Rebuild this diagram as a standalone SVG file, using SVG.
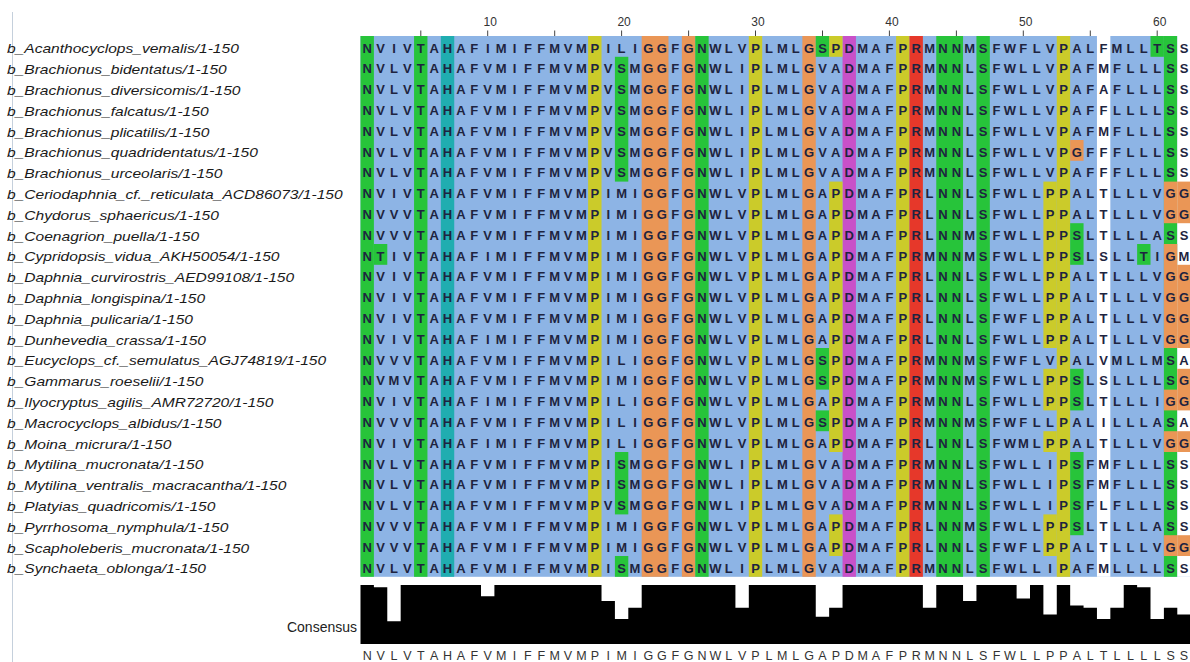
<svg xmlns="http://www.w3.org/2000/svg" width="1190" height="662" viewBox="0 0 1190 662">
<style>
.b{fill:#8db4e5}.g{fill:#27c43a}.c{fill:#20adb0}.y{fill:#cbcb2a}.o{fill:#ea9656}.m{fill:#c851c8}.r{fill:#e6382a}.w{fill:#fff}
.seq{font-family:"Liberation Sans",Arial,sans-serif;font-size:13px;font-weight:bold;fill:#1e2440;text-anchor:middle}
.lab{font-family:"Liberation Sans",Arial,sans-serif;font-size:12.5px;font-style:italic;fill:#1a1a1a}
.rul{font-family:"Liberation Sans",Arial,sans-serif;font-size:12px;fill:#333;text-anchor:middle}
.cons{font-family:"Liberation Sans",Arial,sans-serif;font-size:12.5px;fill:#333;text-anchor:middle}
.clab{font-family:"Liberation Sans",Arial,sans-serif;font-size:14px;fill:#222;text-anchor:end}
</style>
<rect width="1190" height="662" fill="#fff"/>
<line x1="12.5" y1="12" x2="12.5" y2="662" stroke="#c5d0dc" stroke-width="1"/>

<g id="ruler">
<path d="M420.8 30.5V36M487.7 30.5V36M554.7 30.5V36M621.6 30.5V36M688.6 30.5V36M755.5 30.5V36M822.5 30.5V36M889.4 30.5V36M956.4 30.5V36M1023.3 30.5V36M1090.3 30.5V36M1157.2 30.5V36" stroke="#444" stroke-width="1" fill="none"/>
<text class="rul" x="490.2" y="26">10</text>
<text class="rul" x="624.1" y="26">20</text>
<text class="rul" x="758" y="26">30</text>
<text class="rul" x="891.9" y="26">40</text>
<text class="rul" x="1025.8" y="26">50</text>
<text class="rul" x="1159.7" y="26">60</text>
</g>

<g id="cells" transform="translate(360.5 36) scale(13.39 20.8)">
<rect class="b" x="0" y="0" width="62" height="26"/>
<rect class="g" x="0" y="0" width="1" height="26"/>
<rect class="g" x="4" y="0" width="1" height="26"/>
<rect class="c" x="6" y="0" width="1" height="26"/>
<rect class="y" x="17" y="0" width="1" height="26"/>
<rect class="o" x="21" y="0" width="2" height="26"/>
<rect class="o" x="24" y="0" width="1" height="26"/>
<rect class="g" x="25" y="0" width="1" height="26"/>
<rect class="y" x="29" y="0" width="1" height="26"/>
<rect class="o" x="33" y="0" width="1" height="26"/>
<rect class="m" x="36" y="0" width="1" height="26"/>
<rect class="y" x="40" y="0" width="1" height="26"/>
<rect class="r" x="41" y="0" width="1" height="26"/>
<rect class="g" x="43" y="0" width="2" height="26"/>
<rect class="g" x="46" y="0" width="1" height="26"/>
<rect class="y" x="52" y="0" width="1" height="26"/>
<rect class="w" x="55" y="0" width="1" height="26"/>
<rect class="g" x="60" y="0" width="1" height="26"/>
<rect class="w" x="61" y="0" width="1.2" height="26"/>
<rect class="g" x="1" y="10" width="1" height="1"/>
<rect class="g" x="19" y="1" width="1" height="6"/>
<rect class="g" x="19" y="20" width="1" height="3"/>
<rect class="g" x="19" y="25" width="1" height="1"/>
<rect class="g" x="34" y="0" width="1" height="1"/>
<rect class="g" x="34" y="15" width="1" height="2"/>
<rect class="g" x="34" y="18" width="1" height="1"/>
<rect class="y" x="35" y="0" width="1" height="1"/>
<rect class="y" x="35" y="7" width="1" height="13"/>
<rect class="y" x="35" y="23" width="1" height="2"/>
<rect class="y" x="51" y="7" width="1" height="8"/>
<rect class="y" x="51" y="16" width="1" height="2"/>
<rect class="y" x="51" y="19" width="1" height="1"/>
<rect class="y" x="51" y="23" width="1" height="2"/>
<rect class="o" x="53" y="5" width="1" height="1"/>
<rect class="g" x="53" y="9" width="1" height="2"/>
<rect class="g" x="53" y="16" width="1" height="2"/>
<rect class="g" x="53" y="20" width="1" height="4"/>
<rect class="g" x="58" y="10" width="1" height="1"/>
<rect class="g" x="59" y="0" width="1" height="1"/>
<rect class="o" x="60" y="7" width="1" height="2"/>
<rect class="o" x="60" y="10" width="1" height="5"/>
<rect class="o" x="60" y="17" width="1" height="1"/>
<rect class="o" x="60" y="19" width="1" height="1"/>
<rect class="o" x="60" y="24" width="1" height="1"/>
<rect class="o" x="61" y="7" width="1.2" height="2"/>
<rect class="o" x="61" y="11" width="1.2" height="4"/>
<rect class="o" x="61" y="16" width="1.2" height="2"/>
<rect class="o" x="61" y="19" width="1.2" height="1"/>
<rect class="o" x="61" y="24" width="1.2" height="1"/>
</g>

<g id="labels" class="lab" transform="scale(1.246 1)">
<text x="5.6" y="53.5">b_Acanthocyclops_vemalis/1-150</text>
<text x="5.6" y="74.3">b_Brachionus_bidentatus/1-150</text>
<text x="5.6" y="95.1">b_Brachionus_diversicomis/1-150</text>
<text x="5.6" y="115.9">b_Brachionus_falcatus/1-150</text>
<text x="5.6" y="136.7">b_Brachionus_plicatilis/1-150</text>
<text x="5.6" y="157.5">b_Brachionus_quadridentatus/1-150</text>
<text x="5.6" y="178.3">b_Brachionus_urceolaris/1-150</text>
<text x="5.6" y="199.1">b_Ceriodaphnia_cf._reticulata_ACD86073/1-150</text>
<text x="5.6" y="219.9">b_Chydorus_sphaericus/1-150</text>
<text x="5.6" y="240.7">b_Coenagrion_puella/1-150</text>
<text x="5.6" y="261.5">b_Cypridopsis_vidua_AKH50054/1-150</text>
<text x="5.6" y="282.3">b_Daphnia_curvirostris_AED99108/1-150</text>
<text x="5.6" y="303.1">b_Daphnia_longispina/1-150</text>
<text x="5.6" y="323.9">b_Daphnia_pulicaria/1-150</text>
<text x="5.6" y="344.7">b_Dunhevedia_crassa/1-150</text>
<text x="5.6" y="365.5">b_Eucyclops_cf._semulatus_AGJ74819/1-150</text>
<text x="5.6" y="386.3">b_Gammarus_roeselii/1-150</text>
<text x="5.6" y="407.1">b_Ilyocryptus_agilis_AMR72720/1-150</text>
<text x="5.6" y="427.9">b_Macrocyclops_albidus/1-150</text>
<text x="5.6" y="448.7">b_Moina_micrura/1-150</text>
<text x="5.6" y="469.5">b_Mytilina_mucronata/1-150</text>
<text x="5.6" y="490.3">b_Mytilina_ventralis_macracantha/1-150</text>
<text x="5.6" y="511.1">b_Platyias_quadricomis/1-150</text>
<text x="5.6" y="531.9">b_Pyrrhosoma_nymphula/1-150</text>
<text x="5.6" y="552.7">b_Scapholeberis_mucronata/1-150</text>
<text x="5.6" y="573.5">b_Synchaeta_oblonga/1-150</text>
</g>

<g id="sequences" class="seq">
<text y="52.5" x="367.2 380.6 394 407.4 420.8 434.1 447.5 460.9 474.3 487.7 501.1 514.5 527.9 541.3 554.7 568 581.4 594.8 608.2 621.6 635 648.4 661.8 675.2 688.6 701.9 715.3 728.7 742.1 755.5 768.9 782.3 795.7 809.1 822.5 835.8 849.2 862.6 876 889.4 902.8 916.2 929.6 943 956.4 969.7 983.1 996.5 1009.9 1023.3 1036.7 1050.1 1063.5 1076.9 1090.3 1103.6 1117 1130.4 1143.8 1157.2 1170.6 1184">NVIVTAHAFIMIFFMVMPILIGGFGNWLVPLMLGSPDMAFPRMNNMSFWFLVPALFMLLTSS</text>
<text y="73.3" x="367.2 380.6 394 407.4 420.8 434.1 447.5 460.9 474.3 487.7 501.1 514.5 527.9 541.3 554.7 568 581.4 594.8 608.2 621.6 635 648.4 661.8 675.2 688.6 701.9 715.3 728.7 742.1 755.5 768.9 782.3 795.7 809.1 822.5 835.8 849.2 862.6 876 889.4 902.8 916.2 929.6 943 956.4 969.7 983.1 996.5 1009.9 1023.3 1036.7 1050.1 1063.5 1076.9 1090.3 1103.6 1117 1130.4 1143.8 1157.2 1170.6 1184">NVLVTAHAFVMIFFMVMPVSMGGFGNWLIPLMLGVADMAFPRMNNLSFWLLVPAFMFLLLSS</text>
<text y="94.1" x="367.2 380.6 394 407.4 420.8 434.1 447.5 460.9 474.3 487.7 501.1 514.5 527.9 541.3 554.7 568 581.4 594.8 608.2 621.6 635 648.4 661.8 675.2 688.6 701.9 715.3 728.7 742.1 755.5 768.9 782.3 795.7 809.1 822.5 835.8 849.2 862.6 876 889.4 902.8 916.2 929.6 943 956.4 969.7 983.1 996.5 1009.9 1023.3 1036.7 1050.1 1063.5 1076.9 1090.3 1103.6 1117 1130.4 1143.8 1157.2 1170.6 1184">NVLVTAHAFVMIFFMVMPVSMGGFGNWLIPLMLGVADMAFPRMNNLSFWLLVPAFAFLLLSS</text>
<text y="114.9" x="367.2 380.6 394 407.4 420.8 434.1 447.5 460.9 474.3 487.7 501.1 514.5 527.9 541.3 554.7 568 581.4 594.8 608.2 621.6 635 648.4 661.8 675.2 688.6 701.9 715.3 728.7 742.1 755.5 768.9 782.3 795.7 809.1 822.5 835.8 849.2 862.6 876 889.4 902.8 916.2 929.6 943 956.4 969.7 983.1 996.5 1009.9 1023.3 1036.7 1050.1 1063.5 1076.9 1090.3 1103.6 1117 1130.4 1143.8 1157.2 1170.6 1184">NVLVTAHAFVMIFFMVMPVSMGGFGNWLIPLMLGVADMAFPRMNNLSFWLLVPAFFLLLLSS</text>
<text y="135.7" x="367.2 380.6 394 407.4 420.8 434.1 447.5 460.9 474.3 487.7 501.1 514.5 527.9 541.3 554.7 568 581.4 594.8 608.2 621.6 635 648.4 661.8 675.2 688.6 701.9 715.3 728.7 742.1 755.5 768.9 782.3 795.7 809.1 822.5 835.8 849.2 862.6 876 889.4 902.8 916.2 929.6 943 956.4 969.7 983.1 996.5 1009.9 1023.3 1036.7 1050.1 1063.5 1076.9 1090.3 1103.6 1117 1130.4 1143.8 1157.2 1170.6 1184">NVLVTAHAFVMIFFMVMPVSMGGFGNWLIPLMLGVADMAFPRMNNLSFWLLVPAFMFLLLSS</text>
<text y="156.5" x="367.2 380.6 394 407.4 420.8 434.1 447.5 460.9 474.3 487.7 501.1 514.5 527.9 541.3 554.7 568 581.4 594.8 608.2 621.6 635 648.4 661.8 675.2 688.6 701.9 715.3 728.7 742.1 755.5 768.9 782.3 795.7 809.1 822.5 835.8 849.2 862.6 876 889.4 902.8 916.2 929.6 943 956.4 969.7 983.1 996.5 1009.9 1023.3 1036.7 1050.1 1063.5 1076.9 1090.3 1103.6 1117 1130.4 1143.8 1157.2 1170.6 1184">NVLVTAHAFVMIFFMVMPVSMGGFGNWLIPLMLGVADMAFPRMNNLSFWLLVPGFFFLLLSS</text>
<text y="177.3" x="367.2 380.6 394 407.4 420.8 434.1 447.5 460.9 474.3 487.7 501.1 514.5 527.9 541.3 554.7 568 581.4 594.8 608.2 621.6 635 648.4 661.8 675.2 688.6 701.9 715.3 728.7 742.1 755.5 768.9 782.3 795.7 809.1 822.5 835.8 849.2 862.6 876 889.4 902.8 916.2 929.6 943 956.4 969.7 983.1 996.5 1009.9 1023.3 1036.7 1050.1 1063.5 1076.9 1090.3 1103.6 1117 1130.4 1143.8 1157.2 1170.6 1184">NVLVTAHAFVMIFFMVMPVSMGGFGNWLIPLMLGVADMAFPRMNNLSFWLLVPAFFFLLLSS</text>
<text y="198.1" x="367.2 380.6 394 407.4 420.8 434.1 447.5 460.9 474.3 487.7 501.1 514.5 527.9 541.3 554.7 568 581.4 594.8 608.2 621.6 635 648.4 661.8 675.2 688.6 701.9 715.3 728.7 742.1 755.5 768.9 782.3 795.7 809.1 822.5 835.8 849.2 862.6 876 889.4 902.8 916.2 929.6 943 956.4 969.7 983.1 996.5 1009.9 1023.3 1036.7 1050.1 1063.5 1076.9 1090.3 1103.6 1117 1130.4 1143.8 1157.2 1170.6 1184">NVIVTAHAFVMIFFMVMPIMIGGFGNWLVPLMLGAPDMAFPRLNNLSFWLLPPALTLLLVGG</text>
<text y="218.9" x="367.2 380.6 394 407.4 420.8 434.1 447.5 460.9 474.3 487.7 501.1 514.5 527.9 541.3 554.7 568 581.4 594.8 608.2 621.6 635 648.4 661.8 675.2 688.6 701.9 715.3 728.7 742.1 755.5 768.9 782.3 795.7 809.1 822.5 835.8 849.2 862.6 876 889.4 902.8 916.2 929.6 943 956.4 969.7 983.1 996.5 1009.9 1023.3 1036.7 1050.1 1063.5 1076.9 1090.3 1103.6 1117 1130.4 1143.8 1157.2 1170.6 1184">NVVVTAHAFVMIFFMVMPIMIGGFGNWLVPLMLGAPDMAFPRLNNLSFWLLPPALTLLLVGG</text>
<text y="239.7" x="367.2 380.6 394 407.4 420.8 434.1 447.5 460.9 474.3 487.7 501.1 514.5 527.9 541.3 554.7 568 581.4 594.8 608.2 621.6 635 648.4 661.8 675.2 688.6 701.9 715.3 728.7 742.1 755.5 768.9 782.3 795.7 809.1 822.5 835.8 849.2 862.6 876 889.4 902.8 916.2 929.6 943 956.4 969.7 983.1 996.5 1009.9 1023.3 1036.7 1050.1 1063.5 1076.9 1090.3 1103.6 1117 1130.4 1143.8 1157.2 1170.6 1184">NVVVTAHAFVMIFFMVMPIMIGGFGNWLVPLMLGAPDMAFPRLNNMSFWLLPPSLTLLLASS</text>
<text y="260.5" x="367.2 380.6 394 407.4 420.8 434.1 447.5 460.9 474.3 487.7 501.1 514.5 527.9 541.3 554.7 568 581.4 594.8 608.2 621.6 635 648.4 661.8 675.2 688.6 701.9 715.3 728.7 742.1 755.5 768.9 782.3 795.7 809.1 822.5 835.8 849.2 862.6 876 889.4 902.8 916.2 929.6 943 956.4 969.7 983.1 996.5 1009.9 1023.3 1036.7 1050.1 1063.5 1076.9 1090.3 1103.6 1117 1130.4 1143.8 1157.2 1170.6 1184">NTIVTAHAFIMIFFMVMPIMIGGFGNWLVPLMLGAPDMAFPRMNNMSFWLLPPSLSLLTIGM</text>
<text y="281.3" x="367.2 380.6 394 407.4 420.8 434.1 447.5 460.9 474.3 487.7 501.1 514.5 527.9 541.3 554.7 568 581.4 594.8 608.2 621.6 635 648.4 661.8 675.2 688.6 701.9 715.3 728.7 742.1 755.5 768.9 782.3 795.7 809.1 822.5 835.8 849.2 862.6 876 889.4 902.8 916.2 929.6 943 956.4 969.7 983.1 996.5 1009.9 1023.3 1036.7 1050.1 1063.5 1076.9 1090.3 1103.6 1117 1130.4 1143.8 1157.2 1170.6 1184">NVIVTAHAFVMIFFMVMPIMIGGFGNWLVPLMLGAPDMAFPRLNNLSFWLLPPALTLLLVGG</text>
<text y="302.1" x="367.2 380.6 394 407.4 420.8 434.1 447.5 460.9 474.3 487.7 501.1 514.5 527.9 541.3 554.7 568 581.4 594.8 608.2 621.6 635 648.4 661.8 675.2 688.6 701.9 715.3 728.7 742.1 755.5 768.9 782.3 795.7 809.1 822.5 835.8 849.2 862.6 876 889.4 902.8 916.2 929.6 943 956.4 969.7 983.1 996.5 1009.9 1023.3 1036.7 1050.1 1063.5 1076.9 1090.3 1103.6 1117 1130.4 1143.8 1157.2 1170.6 1184">NVIVTAHAFVMIFFMVMPIMIGGFGNWLVPLMLGAPDMAFPRLNNLSFWLLPPALTLLLVGG</text>
<text y="322.9" x="367.2 380.6 394 407.4 420.8 434.1 447.5 460.9 474.3 487.7 501.1 514.5 527.9 541.3 554.7 568 581.4 594.8 608.2 621.6 635 648.4 661.8 675.2 688.6 701.9 715.3 728.7 742.1 755.5 768.9 782.3 795.7 809.1 822.5 835.8 849.2 862.6 876 889.4 902.8 916.2 929.6 943 956.4 969.7 983.1 996.5 1009.9 1023.3 1036.7 1050.1 1063.5 1076.9 1090.3 1103.6 1117 1130.4 1143.8 1157.2 1170.6 1184">NVIVTAHAFVMIFFMVMPIMIGGFGNWLVPLMLGAPDMAFPRLNNLSFWFLPPALTLLLVGG</text>
<text y="343.7" x="367.2 380.6 394 407.4 420.8 434.1 447.5 460.9 474.3 487.7 501.1 514.5 527.9 541.3 554.7 568 581.4 594.8 608.2 621.6 635 648.4 661.8 675.2 688.6 701.9 715.3 728.7 742.1 755.5 768.9 782.3 795.7 809.1 822.5 835.8 849.2 862.6 876 889.4 902.8 916.2 929.6 943 956.4 969.7 983.1 996.5 1009.9 1023.3 1036.7 1050.1 1063.5 1076.9 1090.3 1103.6 1117 1130.4 1143.8 1157.2 1170.6 1184">NVIVTAHAFIMIFFMVMPIMIGGFGNWLVPLMLGAPDMAFPRLNNLSFWLLPPALTLLLVGG</text>
<text y="364.5" x="367.2 380.6 394 407.4 420.8 434.1 447.5 460.9 474.3 487.7 501.1 514.5 527.9 541.3 554.7 568 581.4 594.8 608.2 621.6 635 648.4 661.8 675.2 688.6 701.9 715.3 728.7 742.1 755.5 768.9 782.3 795.7 809.1 822.5 835.8 849.2 862.6 876 889.4 902.8 916.2 929.6 943 956.4 969.7 983.1 996.5 1009.9 1023.3 1036.7 1050.1 1063.5 1076.9 1090.3 1103.6 1117 1130.4 1143.8 1157.2 1170.6 1184">NVVVTAHAFVMIFFMVMPILIGGFGNWLVPLMLGSPDMAFPRMNNMSFWFLVPALVMLLMSA</text>
<text y="385.3" x="367.2 380.6 394 407.4 420.8 434.1 447.5 460.9 474.3 487.7 501.1 514.5 527.9 541.3 554.7 568 581.4 594.8 608.2 621.6 635 648.4 661.8 675.2 688.6 701.9 715.3 728.7 742.1 755.5 768.9 782.3 795.7 809.1 822.5 835.8 849.2 862.6 876 889.4 902.8 916.2 929.6 943 956.4 969.7 983.1 996.5 1009.9 1023.3 1036.7 1050.1 1063.5 1076.9 1090.3 1103.6 1117 1130.4 1143.8 1157.2 1170.6 1184">NVMVTAHAFVMIFFMVMPIMIGGFGNWLVPLMLGSPDMAFPRMNNMSFWLLPPSLSLLLLSG</text>
<text y="406.1" x="367.2 380.6 394 407.4 420.8 434.1 447.5 460.9 474.3 487.7 501.1 514.5 527.9 541.3 554.7 568 581.4 594.8 608.2 621.6 635 648.4 661.8 675.2 688.6 701.9 715.3 728.7 742.1 755.5 768.9 782.3 795.7 809.1 822.5 835.8 849.2 862.6 876 889.4 902.8 916.2 929.6 943 956.4 969.7 983.1 996.5 1009.9 1023.3 1036.7 1050.1 1063.5 1076.9 1090.3 1103.6 1117 1130.4 1143.8 1157.2 1170.6 1184">NVIVTAHAFIMIFFMVMPILIGGFGNWLVPLMLGAPDMAFPRMNNLSFWLLPPSLTLLLIGG</text>
<text y="426.9" x="367.2 380.6 394 407.4 420.8 434.1 447.5 460.9 474.3 487.7 501.1 514.5 527.9 541.3 554.7 568 581.4 594.8 608.2 621.6 635 648.4 661.8 675.2 688.6 701.9 715.3 728.7 742.1 755.5 768.9 782.3 795.7 809.1 822.5 835.8 849.2 862.6 876 889.4 902.8 916.2 929.6 943 956.4 969.7 983.1 996.5 1009.9 1023.3 1036.7 1050.1 1063.5 1076.9 1090.3 1103.6 1117 1130.4 1143.8 1157.2 1170.6 1184">NVVVTAHAFVMIFFMVMPILIGGFGNWLVPLMLGSPDMAFPRMNNMSFWFLLPALILLLASA</text>
<text y="447.7" x="367.2 380.6 394 407.4 420.8 434.1 447.5 460.9 474.3 487.7 501.1 514.5 527.9 541.3 554.7 568 581.4 594.8 608.2 621.6 635 648.4 661.8 675.2 688.6 701.9 715.3 728.7 742.1 755.5 768.9 782.3 795.7 809.1 822.5 835.8 849.2 862.6 876 889.4 902.8 916.2 929.6 943 956.4 969.7 983.1 996.5 1009.9 1023.3 1036.7 1050.1 1063.5 1076.9 1090.3 1103.6 1117 1130.4 1143.8 1157.2 1170.6 1184">NVIVTAHAFIMIFFMVMPILIGGFGNWLVPLMLGAPDMAFPRLNNLSFWMLPPALTLLLVGG</text>
<text y="468.5" x="367.2 380.6 394 407.4 420.8 434.1 447.5 460.9 474.3 487.7 501.1 514.5 527.9 541.3 554.7 568 581.4 594.8 608.2 621.6 635 648.4 661.8 675.2 688.6 701.9 715.3 728.7 742.1 755.5 768.9 782.3 795.7 809.1 822.5 835.8 849.2 862.6 876 889.4 902.8 916.2 929.6 943 956.4 969.7 983.1 996.5 1009.9 1023.3 1036.7 1050.1 1063.5 1076.9 1090.3 1103.6 1117 1130.4 1143.8 1157.2 1170.6 1184">NVLVTAHAFVMIFFMVMPISMGGFGNWLIPLMLGVADMAFPRMNNLSFWLLIPSFMFLLLSS</text>
<text y="489.3" x="367.2 380.6 394 407.4 420.8 434.1 447.5 460.9 474.3 487.7 501.1 514.5 527.9 541.3 554.7 568 581.4 594.8 608.2 621.6 635 648.4 661.8 675.2 688.6 701.9 715.3 728.7 742.1 755.5 768.9 782.3 795.7 809.1 822.5 835.8 849.2 862.6 876 889.4 902.8 916.2 929.6 943 956.4 969.7 983.1 996.5 1009.9 1023.3 1036.7 1050.1 1063.5 1076.9 1090.3 1103.6 1117 1130.4 1143.8 1157.2 1170.6 1184">NVLVTAHAFVMIFFMVMPISMGGFGNWLIPLMLGVADMAFPRMNNLSFWLLIPSFMFLLLSS</text>
<text y="510.1" x="367.2 380.6 394 407.4 420.8 434.1 447.5 460.9 474.3 487.7 501.1 514.5 527.9 541.3 554.7 568 581.4 594.8 608.2 621.6 635 648.4 661.8 675.2 688.6 701.9 715.3 728.7 742.1 755.5 768.9 782.3 795.7 809.1 822.5 835.8 849.2 862.6 876 889.4 902.8 916.2 929.6 943 956.4 969.7 983.1 996.5 1009.9 1023.3 1036.7 1050.1 1063.5 1076.9 1090.3 1103.6 1117 1130.4 1143.8 1157.2 1170.6 1184">NVLVTAHAFVMIFFMVMPVSMGGFGNWLIPLMLGVADMAFPRMNNLSFWLLIPSFLFLLLSS</text>
<text y="530.9" x="367.2 380.6 394 407.4 420.8 434.1 447.5 460.9 474.3 487.7 501.1 514.5 527.9 541.3 554.7 568 581.4 594.8 608.2 621.6 635 648.4 661.8 675.2 688.6 701.9 715.3 728.7 742.1 755.5 768.9 782.3 795.7 809.1 822.5 835.8 849.2 862.6 876 889.4 902.8 916.2 929.6 943 956.4 969.7 983.1 996.5 1009.9 1023.3 1036.7 1050.1 1063.5 1076.9 1090.3 1103.6 1117 1130.4 1143.8 1157.2 1170.6 1184">NVVVTAHAFVMIFFMVMPIMIGGFGNWLVPLMLGAPDMAFPRLNNMSFWLLPPSLTLLLASS</text>
<text y="551.7" x="367.2 380.6 394 407.4 420.8 434.1 447.5 460.9 474.3 487.7 501.1 514.5 527.9 541.3 554.7 568 581.4 594.8 608.2 621.6 635 648.4 661.8 675.2 688.6 701.9 715.3 728.7 742.1 755.5 768.9 782.3 795.7 809.1 822.5 835.8 849.2 862.6 876 889.4 902.8 916.2 929.6 943 956.4 969.7 983.1 996.5 1009.9 1023.3 1036.7 1050.1 1063.5 1076.9 1090.3 1103.6 1117 1130.4 1143.8 1157.2 1170.6 1184">NVVVTAHAFVMIFFMVMPIMIGGFGNWLVPLMLGAPDMAFPRLNNLSFWFLPPALTLLLVGG</text>
<text y="572.5" x="367.2 380.6 394 407.4 420.8 434.1 447.5 460.9 474.3 487.7 501.1 514.5 527.9 541.3 554.7 568 581.4 594.8 608.2 621.6 635 648.4 661.8 675.2 688.6 701.9 715.3 728.7 742.1 755.5 768.9 782.3 795.7 809.1 822.5 835.8 849.2 862.6 876 889.4 902.8 916.2 929.6 943 956.4 969.7 983.1 996.5 1009.9 1023.3 1036.7 1050.1 1063.5 1076.9 1090.3 1103.6 1117 1130.4 1143.8 1157.2 1170.6 1184">NVLVTAHAFVMIFFMVMPISMGGFGNWLIPLMLGVADMAFPRMNNLSFWLLIPAFMLLLLSS</text>
</g>

<g id="consensus">
<text class="clab" x="357" y="631.5">Consensus</text>
<path fill="#000" d="M360.5 644V585H373.89V587.27H387.28V621.31H400.67V585H481.01V596.35H494.4V585H601.52V600.88H614.91V619.04H628.3V607.69H641.69V585H735.42V607.69H748.81V585H815.76V616.77H829.15V607.69H842.54V585H922.88V607.69H936.27V585H963.05V600.88H976.44V585H1016.61V598.62H1030V585H1043.39V614.5H1056.78V585H1070.17V605.42H1083.56V607.69H1096.95V619.04H1110.34V607.69H1123.73V585H1137.12V587.27H1150.51V619.04H1163.9V607.69H1177.29V614.5H1190.7V644Z"/>
<text class="cons" y="659.5" x="367.2 380.6 394 407.4 420.8 434.1 447.5 460.9 474.3 487.7 501.1 514.5 527.9 541.3 554.7 568 581.4 594.8 608.2 621.6 635 648.4 661.8 675.2 688.6 701.9 715.3 728.7 742.1 755.5 768.9 782.3 795.7 809.1 822.5 835.8 849.2 862.6 876 889.4 902.8 916.2 929.6 943 956.4 969.7 983.1 996.5 1009.9 1023.3 1036.7 1050.1 1063.5 1076.9 1090.3 1103.6 1117 1130.4 1143.8 1157.2 1170.6 1184">NVLVTAHAFVMIFFMVMPIMIGGFGNWLVPLMLGAPDMAFPRMNNLSFWLLPPALTLLLLSS</text>
</g>
</svg>
